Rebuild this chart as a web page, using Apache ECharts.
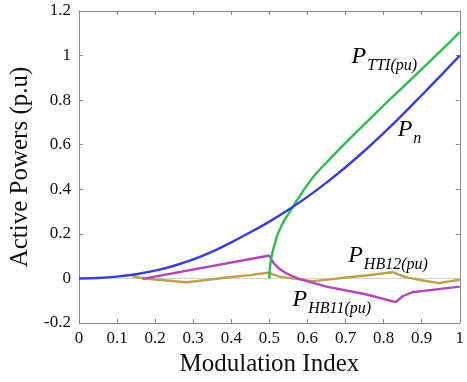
<!DOCTYPE html>
<html>
<head>
<meta charset="utf-8">
<script src="https://cdn.jsdelivr.net/npm/echarts@6/dist/echarts.min.js"></script>
<style>
html,body{margin:0;padding:0;background:#fff;}
#c{width:467px;height:382px;}
</style>
</head>
<body>
<div id="c"></div>
<script>
// Data: [modulation index, active power (p.u)]
const xTicks = ['0','0.1','0.2','0.3','0.4','0.5','0.6','0.7','0.8','0.9','1'];
const yTicks = ['-0.2','0','0.2','0.4','0.6','0.8','1','1.2'];

const pn = [[0,0],[0.05,0.002],[0.1,0.008],[0.15,0.019],[0.2,0.035],[0.25,0.057],[0.3,0.085],[0.35,0.12],[0.4,0.162],[0.45,0.207],[0.5,0.255],[0.55,0.308],[0.6,0.366],[0.65,0.43],[0.7,0.499],[0.75,0.573],[0.8,0.652],[0.85,0.735],[0.9,0.822],[0.95,0.91],[1,1.0]];

const pTTI = [[0.5,0],[0.501,0.04],[0.503,0.07],[0.506,0.1],[0.51,0.13],[0.515,0.16],[0.52,0.19],[0.53,0.23],[0.54,0.262],[0.55,0.29],[0.56,0.317],[0.57,0.344],[0.58,0.37],[0.59,0.396],[0.6,0.42],[0.62,0.465],[0.65,0.52],[0.7,0.608],[0.75,0.692],[0.8,0.776],[0.85,0.857],[0.9,0.939],[0.95,1.021],[1,1.105]];

const pHB11 = [[0.167,-0.002],[0.5,0.103],[0.505,0.085],[0.513,0.066],[0.525,0.045],[0.54,0.028],[0.56,0.01],[0.58,-0.003],[0.65,-0.037],[0.75,-0.07],[0.832,-0.106],[0.85,-0.08],[0.875,-0.062],[0.95,-0.047],[1,-0.037]];

const pHB12 = [[0.14,0.01],[0.17,0.0],[0.2,-0.005],[0.282,-0.017],[0.33,-0.008],[0.387,0.004],[0.45,0.015],[0.496,0.026],[0.51,0.018],[0.526,0.008],[0.56,0.0],[0.613,-0.012],[0.66,-0.004],[0.7,0.004],[0.76,0.014],[0.823,0.028],[0.84,0.017],[0.858,0.006],[0.9,-0.008],[0.945,-0.021],[1,-0.006]];

// label anchors in data coordinates
const labels = [
  {x:0.716, y:0.942, main:'P', sub:'TTI(pu)'},
  {x:0.837, y:0.612, main:'P', sub:'n'},
  {x:0.707, y:0.047, main:'P', sub:'HB12(pu)'},
  {x:0.561, y:-0.150, main:'P', sub:'HB11(pu)'}
];

const FONT = '"Liberation Serif", "DejaVu Serif", serif';
const axisGray = '#8c8c8c';

const chart = echarts.init(document.getElementById('c'));

function baseX(show){
  return {
    type:'value', min:0, max:1, interval:0.1,
    axisLine:{show:true, onZero:false, lineStyle:{color:axisGray, width:1}},
    axisTick:{show:true, inside:true, length:4, lineStyle:{color:axisGray}},
    splitLine:{show:false},
    axisLabel:{show:show, margin:7, color:'#111', fontFamily:FONT, fontSize:17,
      formatter:function(v){ const i=Math.round(v*10); return xTicks[i]; }}
  };
}
function baseY(show){
  return {
    type:'value', min:-0.2, max:1.2, interval:0.2,
    axisLine:{show:true, onZero:false, lineStyle:{color:axisGray, width:1}},
    axisTick:{show:true, inside:true, length:4, lineStyle:{color:axisGray}},
    splitLine:{show:false},
    axisLabel:{show:show, margin:8, color:'#111', fontFamily:FONT, fontSize:17,
      formatter:function(v){ const i=Math.round((v+0.2)/0.2); return yTicks[i]; }}
  };
}

const xb = baseX(true);
xb.name = 'Modulation Index'; xb.nameLocation='middle'; xb.nameGap=26;
xb.nameTextStyle = {fontFamily:FONT, fontSize:25, color:'#111'};
const xt = baseX(false); xt.position='top';
const yl = baseY(true);
yl.name = 'Active Powers (p.u)'; yl.nameLocation='middle'; yl.nameGap=41;
yl.nameTextStyle = {fontFamily:FONT, fontSize:25, color:'#111'};
const yr = baseY(false); yr.position='right';

function line(name, data, color, smooth){
  return {
    name:name, type:'line', data:data, xAxisIndex:0, yAxisIndex:0,
    showSymbol:false, symbol:'none', smooth:smooth,
    lineStyle:{color:color, width:2.4}, silent:true, animation:false, z:3
  };
}

chart.setOption({
  animation:false,
  backgroundColor:'#fff',
  grid:{left:79, top:11, right:5, bottom:59, containLabel:false},
  xAxis:[xb, xt],
  yAxis:[yl, yr],
  series:[
    {
      type:'line', data:[[0,0],[1,0]], symbol:'none', silent:true, animation:false,
      lineStyle:{color:'#d0d0d0', width:1}, z:1
    },
    line('HB12', pHB12, '#bba24a', false),
    line('HB11', pHB11, '#b444b8', false),
    line('TTI', pTTI, '#2ebd4a', 0.25),
    line('Pn', pn, '#3a3ed6', 0.25)
  ]
});

const g = labels.map(function(l){
  const p = chart.convertToPixel({xAxisIndex:0, yAxisIndex:0}, [l.x, l.y]);
  return {
    type:'text', x:p[0], y:p[1], silent:true, z:10,
    style:{
      text:'{m|'+l.main+'}{s|'+l.sub+'}',
      textVerticalAlign:'bottom',
      rich:{
        m:{fontFamily:FONT, fontStyle:'italic', fontSize:24, color:'#111', lineHeight:26, verticalAlign:'bottom'},
        s:{fontFamily:FONT, fontStyle:'italic', fontSize:16, color:'#111', lineHeight:26, verticalAlign:'bottom', padding:[0,0,-5,1]}
      }
    }
  };
});
chart.setOption({graphic:g});
</script>
</body>
</html>
